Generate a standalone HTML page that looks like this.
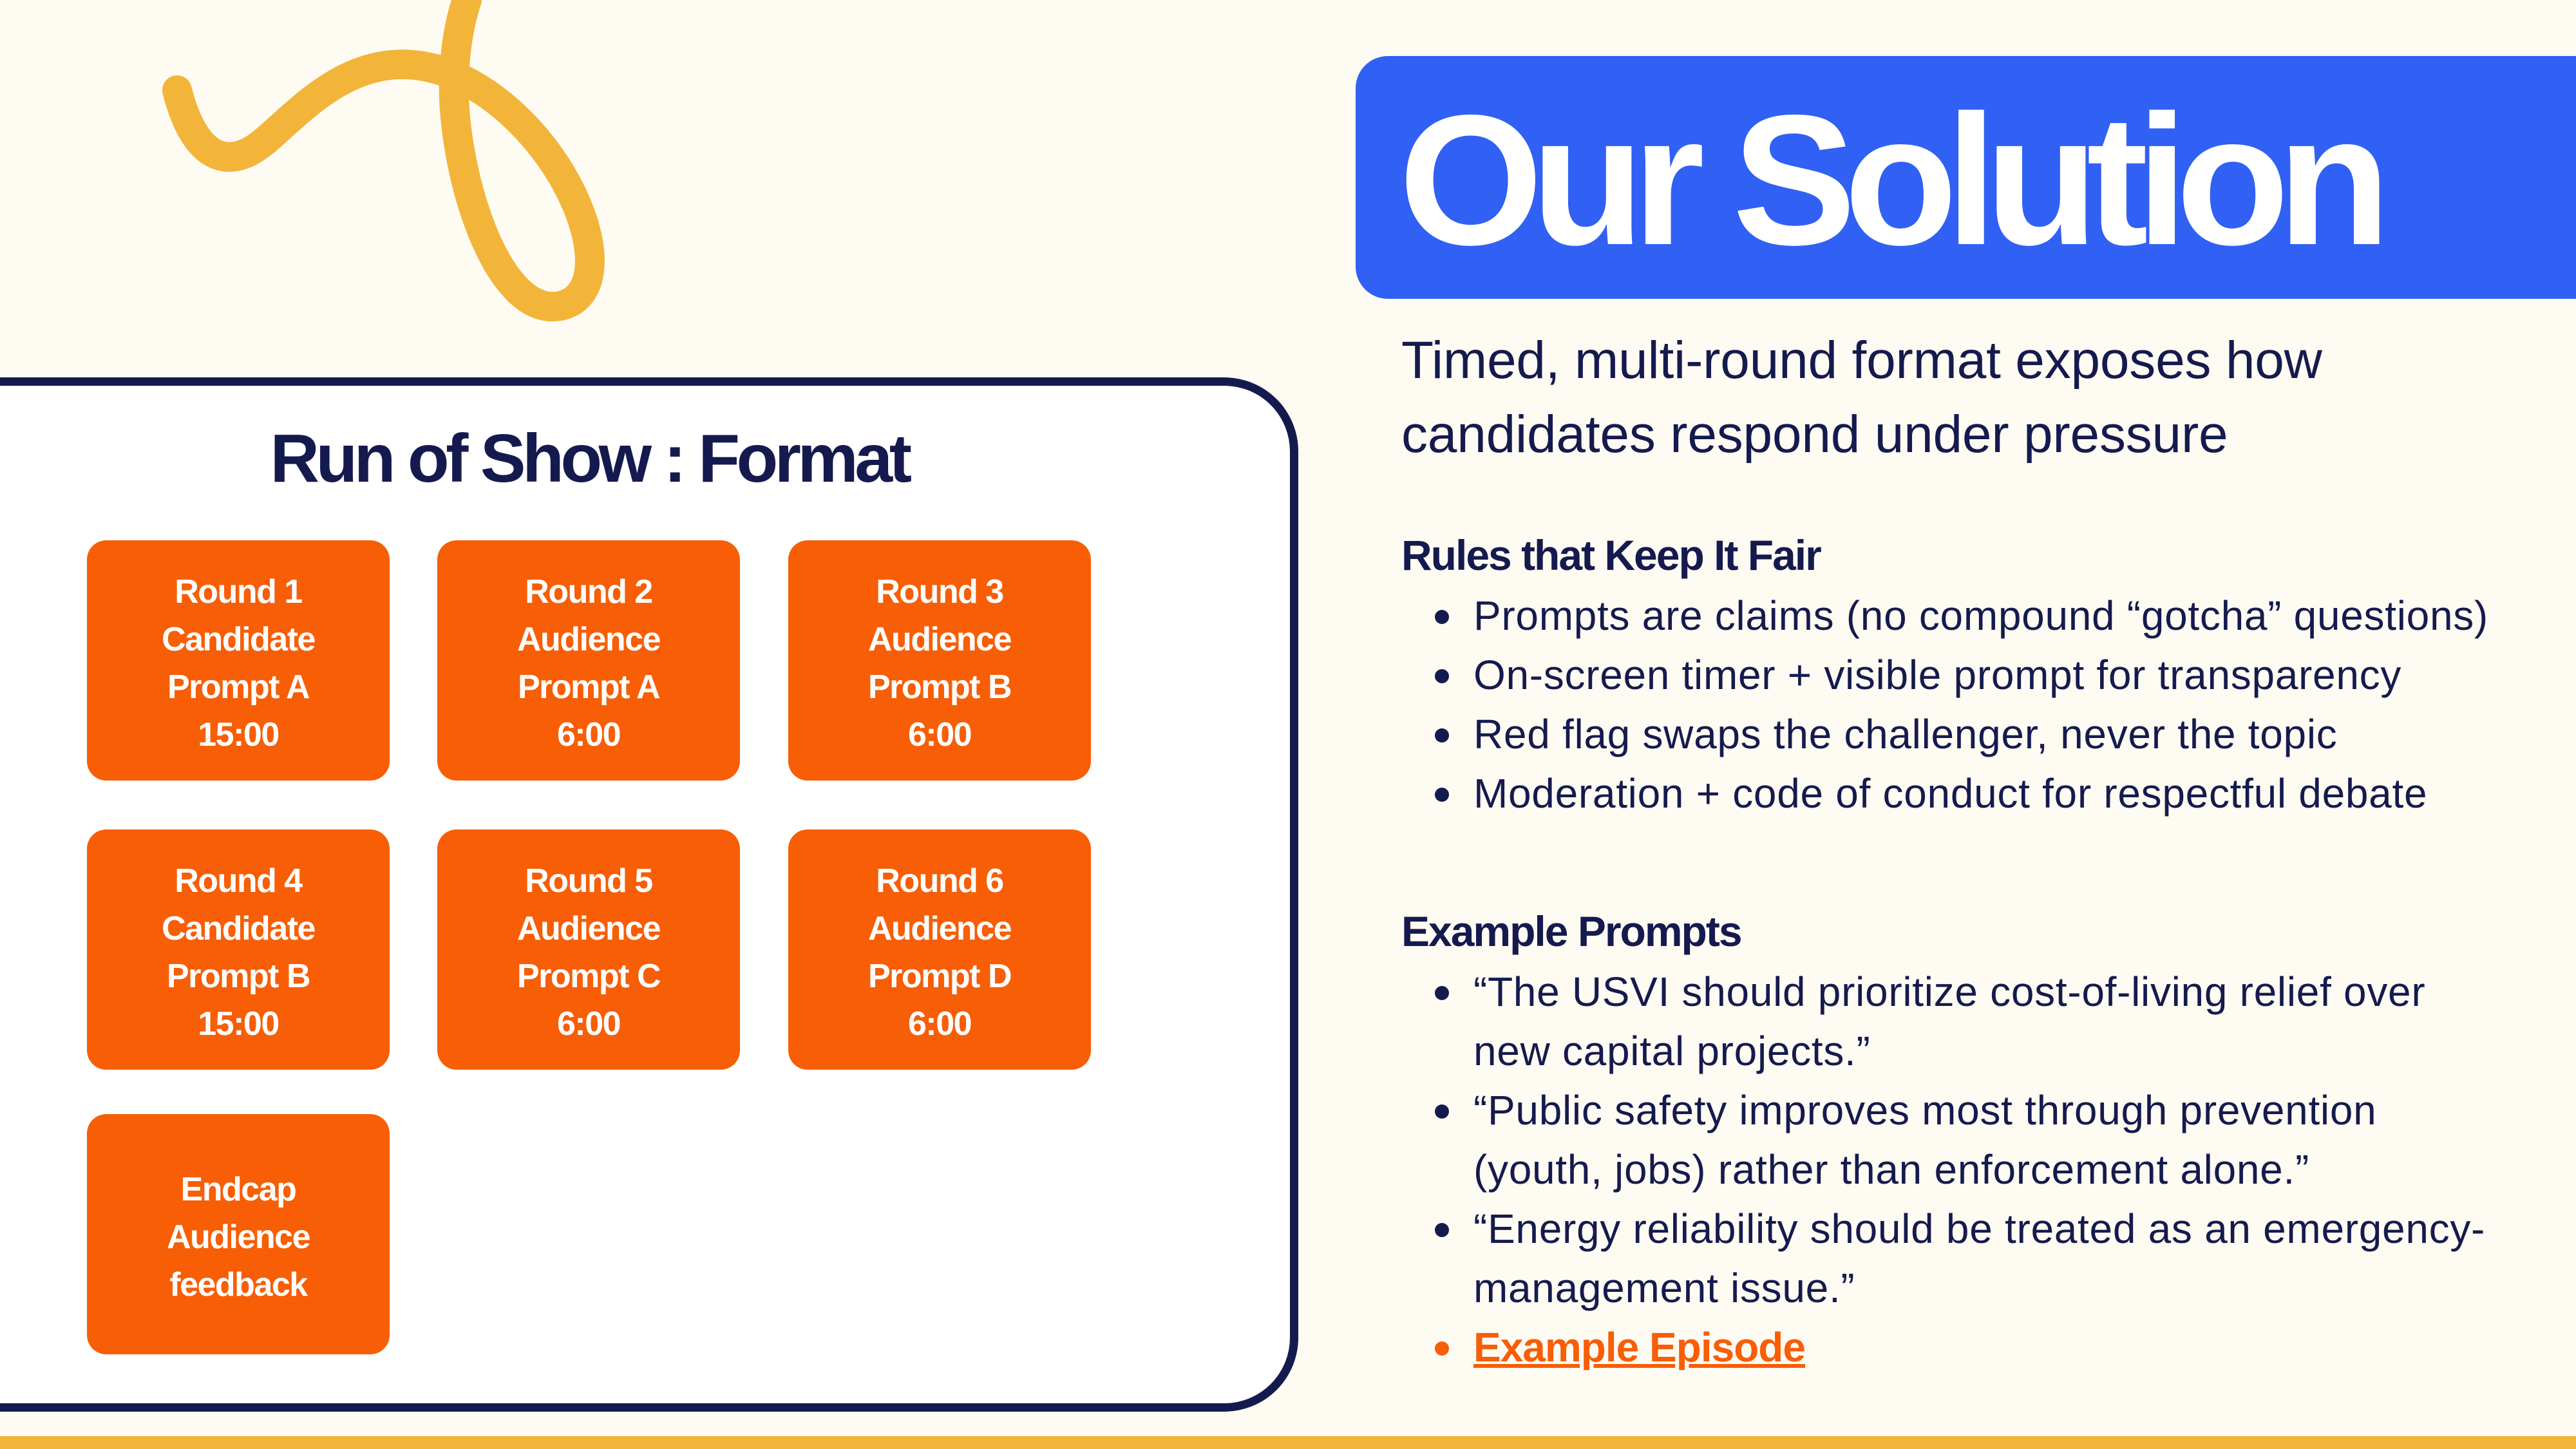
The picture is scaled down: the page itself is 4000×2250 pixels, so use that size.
<!DOCTYPE html>
<html><head><meta charset="utf-8"><style>
*{margin:0;padding:0;box-sizing:border-box}
body{width:4000px;height:2250px;background:#FEFBF3;position:relative;overflow:hidden;font-family:"Liberation Sans",sans-serif;color:#151A4E}
.abs{position:absolute}
.panel{left:-40px;top:586px;width:2056px;height:1606px;background:#fff;border:13px solid #151A4E;border-radius:0 115px 115px 0}
.title{left:0;width:1830px;top:642px;text-align:center;font-weight:bold;font-size:106px;letter-spacing:-5.5px;line-height:140px}
.box{width:470px;height:373px;background:#F75E06;border-radius:30px;color:#fff;font-weight:bold;font-size:52px;letter-spacing:-1.5px;line-height:74px;text-align:center;display:flex;flex-direction:column;justify-content:center;padding-top:8px}
.blue{left:2105px;top:87px;width:1960px;height:377px;background:#3160F4;border-radius:50px}
.big{left:2172px;top:120px;font-weight:bold;font-size:288px;color:#fff;letter-spacing:-18.5px;line-height:320px;white-space:nowrap}
.sub{left:2176px;font-size:82px;letter-spacing:-0.2px;line-height:115px;white-space:nowrap}
.h{left:2176px;font-weight:bold;font-size:66px;letter-spacing:-2px;white-space:nowrap;line-height:92px}
.li{left:2288px;font-size:64px;letter-spacing:0.7px;white-space:nowrap;line-height:92px}
.dot{left:2228px;width:22px;height:22px;border-radius:50%;background:#151A4E}
</style></head><body>
<svg class="abs" style="left:0;top:0" width="1100" height="560"><path d="M275,140 C300,240 350,270 410,220 C470,170 560,60 700,115 C880,190 980,450 870,475 C770,495 700,260 705,120 C707,70 715,30 725,0" fill="none" stroke="#F2B53A" stroke-width="46" stroke-linecap="round"/></svg>
<div class="abs panel"></div>
<div class="abs title">Run of Show : Format</div>
<div class="abs box" style="left:135px;top:839px">Round 1<br>Candidate<br>Prompt A<br>15:00</div>
<div class="abs box" style="left:679px;top:839px">Round 2<br>Audience<br>Prompt A<br>6:00</div>
<div class="abs box" style="left:1224px;top:839px">Round 3<br>Audience<br>Prompt B<br>6:00</div>
<div class="abs box" style="left:135px;top:1288px">Round 4<br>Candidate<br>Prompt B<br>15:00</div>
<div class="abs box" style="left:679px;top:1288px">Round 5<br>Audience<br>Prompt C<br>6:00</div>
<div class="abs box" style="left:1224px;top:1288px">Round 6<br>Audience<br>Prompt D<br>6:00</div>
<div class="abs box" style="left:135px;top:1730px">Endcap<br>Audience<br>feedback</div>
<div class="abs blue"></div>
<div class="abs big">Our Solution</div>
<div class="abs sub" style="top:502px">Timed, multi-round format exposes how</div>
<div class="abs sub" style="top:617px">candidates respond under pressure</div>
<div class="abs h" style="top:816px">Rules that Keep It Fair</div>
<div class="abs dot" style="top:947px"></div><div class="abs li" style="top:910px">Prompts are claims (no compound “gotcha” questions)</div>
<div class="abs dot" style="top:1039px"></div><div class="abs li" style="top:1002px">On-screen timer + visible prompt for transparency</div>
<div class="abs dot" style="top:1131px"></div><div class="abs li" style="top:1094px">Red flag swaps the challenger, never the topic</div>
<div class="abs dot" style="top:1223px"></div><div class="abs li" style="top:1186px">Moderation + code of conduct for respectful debate</div>
<div class="abs h" style="top:1400px">Example Prompts</div>
<div class="abs dot" style="top:1531px"></div><div class="abs li" style="top:1494px">“The USVI should prioritize cost-of-living relief over</div>
<div class="abs li" style="top:1586px">new capital projects.”</div>
<div class="abs dot" style="top:1715px"></div><div class="abs li" style="top:1678px">“Public safety improves most through prevention</div>
<div class="abs li" style="top:1770px">(youth, jobs) rather than enforcement alone.”</div>
<div class="abs dot" style="top:1899px"></div><div class="abs li" style="top:1862px">“Energy reliability should be treated as an emergency-</div>
<div class="abs li" style="top:1954px">management issue.”</div>
<div class="abs dot" style="top:2083px;background:#F75E06"></div><div class="abs li" style="top:2046px;color:#F75E06;font-weight:bold;text-decoration:underline;letter-spacing:-1px">Example Episode</div>
<div class="abs" style="left:0;top:2230px;width:4000px;height:20px;background:#F2B53A"></div>
</body></html>
